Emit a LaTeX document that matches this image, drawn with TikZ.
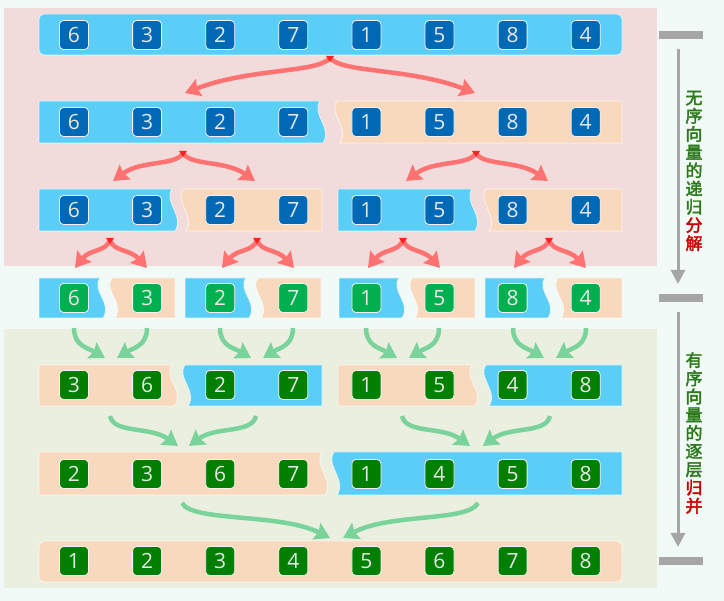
\documentclass[tikz,border=0pt]{standalone}
\usepackage{fontspec}
\setmainfont{Open Sans}
\newfontfamily\cjk[FakeBold=2.5]{Noto Sans CJK SC}
\usetikzlibrary{arrows.meta}
\definecolor{bg}{HTML}{F1FAF6}
\definecolor{pinkp}{HTML}{F2DCDB}
\definecolor{greenp}{HTML}{EBEFDF}
\definecolor{barblue}{HTML}{5BCEF8}
\definecolor{barpeach}{HTML}{F8D9BD}
\definecolor{nblue}{HTML}{0069B6}
\definecolor{ngreen}{HTML}{00B050}
\definecolor{ndgreen}{HTML}{007F00}
\definecolor{redA}{HTML}{FF7272}
\definecolor{redDot}{HTML}{FF2020}
\definecolor{greenA}{HTML}{7AD39B}
\definecolor{grayB}{HTML}{A6A6A6}
\definecolor{tgreen}{HTML}{2C7A1C}
\definecolor{tred}{HTML}{CC0000}
\newcommand\barSW[5]{\path[barline,fill=#5] (#1,#3) -- (#2,#3) .. controls +(-9,13) and +(10,-15) .. (#2+3,#4) -- (#1,#4) -- cycle;}
\newcommand\barWS[5]{\path[barline,fill=#5] (#1+3,#4) .. controls +(10,-15) and +(-9,13) .. (#1,#3) -- (#2,#3) -- (#2,#4) -- cycle;}
\begin{document}
\begin{tikzpicture}[x=1pt,y=-1pt,
  barline/.style={draw=white,draw opacity=0.7,line width=0.8pt},
  nb/.style={rectangle,rounded corners=4pt,minimum size=29pt,inner sep=0pt,draw=white!90!gray,line width=0.8pt,text=white!91!black,font=\fontsize{21}{21}\selectfont},
  rarr/.style={draw=redA,line width=4.5pt,-{Stealth[length=15pt,width=18pt,inset=2pt]}},
  garr/.style={draw=greenA,line width=4.5pt,-{Stealth[length=15pt,width=18pt,inset=2pt]}},
  grayarr/.style={draw=grayB,line width=3pt,-{Triangle[length=14pt,width=14pt]}},
  gbar/.style={rectangle,fill=grayB,minimum width=44pt,minimum height=8pt,inner sep=0pt},
  vtext/.style={align=center,inner sep=0pt,text=tgreen,font=\cjk\fontsize{17}{18.2}\selectfont},
  rdot/.style={fill=redDot}]
\useasboundingbox (0,0) rectangle (724,601);
\fill[bg] (0,0) rectangle (724,601);
% panels
\fill[pinkp] (4,8) rectangle (657,266);
\fill[greenp] (4,329) rectangle (657,588);
% row 1
\path[barline,fill=barblue,rounded corners=5pt] (39,14) rectangle (622,55);
% row 2
\barSW{39}{320}{101}{143}{barblue}
\barWS{337}{622}{101}{143}{barpeach}
% row 3
\barSW{39}{172}{189}{231}{barblue}
\barWS{183}{322}{189}{231}{barpeach}
\barSW{338}{472}{189}{231}{barblue}
\barWS{486}{622}{189}{231}{barpeach}
% row 4
\barSW{39}{100}{278}{318}{barblue}
\barWS{112}{175}{278}{318}{barpeach}
\barSW{185}{246}{278}{318}{barblue}
\barWS{258}{321}{278}{318}{barpeach}
\barSW{339}{399}{278}{318}{barblue}
\barWS{412}{475}{278}{318}{barpeach}
\barSW{485}{545}{278}{318}{barblue}
\barWS{558}{622}{278}{318}{barpeach}
% row 5
\barSW{39}{172}{365}{406}{barpeach}
\barWS{185}{322}{365}{406}{barblue}
\barSW{338}{472}{365}{406}{barpeach}
\barWS{486}{622}{365}{406}{barblue}
% row 6
\barSW{39}{322}{452}{495}{barpeach}
\barWS{334}{622}{452}{495}{barblue}
% row 7
\path[barline,fill=barpeach,rounded corners=5pt] (39,541) rectangle (622,582);
% number boxes
\foreach \v [count=\i] in {6,3,2,7,1,5,8,4}{
  \node[nb,fill=nblue] (ra\i) at ({0.9+73.1*\i},35) {\v};
  \node[nb,fill=nblue] (rb\i) at ({0.9+73.1*\i},122) {\v};
  \node[nb,fill=nblue] (rc\i) at ({0.9+73.1*\i},210) {\v};
  \node[nb,fill=ngreen] (rd\i) at ({0.9+73.1*\i},298) {\v};}
\foreach \v [count=\i] in {3,6,2,7,1,5,4,8}
  \node[nb,fill=ndgreen] (re\i) at ({0.9+73.1*\i},385) {\v};
\foreach \v [count=\i] in {2,3,6,7,1,4,5,8}
  \node[nb,fill=ndgreen] (rf\i) at ({0.9+73.1*\i},474) {\v};
\foreach \v [count=\i] in {1,2,3,4,5,6,7,8}
  \node[nb,fill=ndgreen] (rg\i) at ({0.9+73.1*\i},561) {\v};
% red split arrows
\coordinate (o1) at (330,58);
\coordinate (t1l) at (185,93);
\coordinate (t1r) at (475,93);
\draw[rarr] (o1) .. controls (318,73) and (250,68) .. (t1l);
\draw[rarr] (o1) .. controls (342,73) and (410,68) .. (t1r);
\fill[rdot] (326,56) -- (334,56) -- (330,62) -- cycle;
\foreach \ox/\n in {183/a,476/b}{
  \coordinate (o2\n) at (\ox,153);
  \coordinate (t2\n l) at (\ox-70,181);
  \coordinate (t2\n r) at (\ox+72,181);
  \draw[rarr] (o2\n) .. controls (\ox-7,166) and (\ox-42,160) .. (t2\n l);
  \draw[rarr] (o2\n) .. controls (\ox+7,166) and (\ox+42,160) .. (t2\n r);
  \fill[rdot] (\ox-4,151) -- (\ox+4,151) -- (\ox,157) -- cycle;}
\foreach \ox/\n in {110/a,257/b,403/c,549/d}{
  \coordinate (o3\n) at (\ox,240);
  \coordinate (t3\n l) at (\ox-35,268);
  \coordinate (t3\n r) at (\ox+37,268);
  \draw[rarr] (o3\n) .. controls (\ox-4,252) and (\ox-20,249) .. (t3\n l);
  \draw[rarr] (o3\n) .. controls (\ox+4,252) and (\ox+20,249) .. (t3\n r);
  \fill[rdot] (\ox-4,238) -- (\ox+4,238) -- (\ox,244) -- cycle;}
% green merge arrows
\foreach \a/\b/\n in {74/147/a,220/293/b,366/439/c,513/586/d}{
  \coordinate (s4\n l) at (\a,328);
  \coordinate (s4\n r) at (\b,328);
  \coordinate (e4\n l) at (\a+31,358);
  \coordinate (e4\n r) at (\b-30,358);
  \draw[garr] (s4\n l) .. controls (\a,346) and (\a+14,348) .. (e4\n l);
  \draw[garr] (s4\n r) .. controls (\b,346) and (\b-14,348) .. (e4\n r);}
\foreach \a/\b/\n in {110/256/a,402/550/b}{
  \coordinate (s5\n l) at (\a,416);
  \coordinate (s5\n r) at (\b,416);
  \coordinate (e5\n l) at (\a+68,446);
  \coordinate (e5\n r) at (\b-67,446);
  \draw[garr] (s5\n l) .. controls (\a+4,434) and (\a+40,426) .. (e5\n l);
  \draw[garr] (s5\n r) .. controls (\b-4,434) and (\b-40,426) .. (e5\n r);}
\coordinate (s6l) at (182,503);
\coordinate (s6r) at (478,503);
\coordinate (e6l) at (330,538);
\coordinate (e6r) at (343,538);
\draw[garr] (s6l) .. controls (192,522) and (280,513) .. (e6l);
\draw[garr] (s6r) .. controls (468,522) and (390,513) .. (e6r);
% right-hand scale
\node[gbar] (g1) at (681,35) {};
\node[gbar] (g2) at (681,298) {};
\node[gbar] (g3) at (681,561) {};
\coordinate (a1s) at (678,49);
\coordinate (a1e) at (678,284);
\coordinate (a2s) at (678,312);
\coordinate (a2e) at (678,547);
\draw[grayarr] (a1s) -- (a1e);
\draw[grayarr] (a2s) -- (a2e);
\node[vtext] (vt1) at (694,171) {无\\序\\向\\量\\的\\递\\归\\\textcolor{tred}{分}\\\textcolor{tred}{解}};
\node[vtext] (vt2) at (694,433) {有\\序\\向\\量\\的\\逐\\层\\\textcolor{tred}{归}\\\textcolor{tred}{并}};
\end{tikzpicture}
\end{document}
